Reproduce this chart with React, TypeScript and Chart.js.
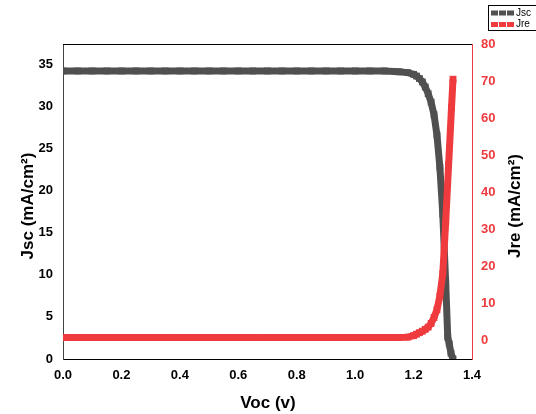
import React, { useEffect, useRef } from "react";
import { Chart, registerables } from "chart.js";

Chart.register(...registerables);

// ---- data ----
const vocJsc = [
  0, 0.05, 0.1, 0.15, 0.2, 0.25, 0.3, 0.35, 0.4, 0.45, 0.5, 0.55, 0.6, 0.65, 0.7, 0.75, 0.8, 0.85, 0.9, 0.95, 1.0,
  1.05, 1.1, 1.15, 1.18, 1.2, 1.21, 1.22, 1.23, 1.24, 1.25, 1.26, 1.27, 1.28, 1.29, 1.3, 1.31, 1.317, 1.322, 1.328,
  1.335,
];
const jscValues = [
  34.2, 34.2, 34.2, 34.2, 34.2, 34.2, 34.2, 34.2, 34.2, 34.2, 34.2, 34.2, 34.2, 34.2, 34.2, 34.2, 34.2, 34.2, 34.2,
  34.2, 34.2, 34.2, 34.2, 34.1, 34.0, 33.8, 33.6, 33.3, 32.9, 32.3, 31.5, 30.5, 29.0, 26.6, 22.8, 17.2, 9.0, 2.6, 1.8,
  0.7, 0.0,
];
const vocJre = [
  0, 0.05, 0.1, 0.15, 0.2, 0.25, 0.3, 0.35, 0.4, 0.45, 0.5, 0.55, 0.6, 0.65, 0.7, 0.75, 0.8, 0.85, 0.9, 0.95, 1.0,
  1.05, 1.1, 1.15, 1.18, 1.2, 1.21, 1.22, 1.23, 1.24, 1.25, 1.26, 1.27, 1.28, 1.29, 1.3, 1.31, 1.32, 1.33, 1.335,
];
const jreValues = [
  0.8, 0.8, 0.8, 0.8, 0.8, 0.8, 0.8, 0.8, 0.8, 0.8, 0.8, 0.8, 0.8, 0.8, 0.8, 0.8, 0.8, 0.8, 0.8, 0.8, 0.8, 0.8, 0.8,
  0.8, 0.9, 1.3, 1.7, 2.1, 2.5, 3.0, 3.6, 4.6, 6.2, 8.3, 12.0, 18.0, 32.0, 47.5, 63.0, 70.5,
];
const xTicks = [0, 0.2, 0.4, 0.6, 0.8, 1.0, 1.2, 1.4];
const jscTicks = [0, 5, 10, 15, 20, 25, 30, 35];
const jreTicks = [0, 10, 20, 30, 40, 50, 60, 70, 80];

const GRAY = "#505050";
const RED = "#ef3b3e";
const FONT = '"Liberation Sans", Arial, sans-serif';

const decorPlugin = {
  id: "decor",
  afterDraw(chart: any) {
    const ctx = chart.ctx;
    const a = chart.chartArea;
    ctx.save();
    // top frame line
    ctx.strokeStyle = "#000";
    ctx.lineWidth = 1;
    ctx.beginPath();
    ctx.moveTo(a.left, Math.round(a.top) + 0.5);
    ctx.lineTo(a.right, Math.round(a.top) + 0.5);
    ctx.stroke();

    // axis titles
    ctx.fillStyle = "#000";
    ctx.font = `bold 17px ${FONT}`;
    ctx.textAlign = "center";
    ctx.textBaseline = "middle";
    ctx.fillText("Voc (v)", 268, 403);

    ctx.save();
    ctx.translate(28, 206);
    ctx.rotate(-Math.PI / 2);
    ctx.fillText("Jsc (mA/cm²)", 0, 0);
    ctx.restore();

    ctx.save();
    ctx.translate(515, 206);
    ctx.rotate(-Math.PI / 2);
    ctx.fillText("Jre (mA/cm²)", 0, 0);
    ctx.restore();

    // legend
    ctx.strokeStyle = "#000";
    ctx.lineWidth = 1;
    ctx.strokeRect(488.5, 5.5, 50, 25);
    const entries = [
      { label: "Jsc", color: GRAY, y: 13 },
      { label: "Jre", color: RED, y: 24.5 },
    ];
    ctx.font = `10px ${FONT}`;
    ctx.textAlign = "left";
    for (const e of entries) {
      ctx.fillStyle = e.color;
      for (let i = 0; i < 3; i++) {
        ctx.fillRect(491 + i * 8, e.y - 2.5, 7, 5);
      }
      ctx.fillStyle = "#000";
      ctx.fillText(e.label, 516, e.y);
    }
    ctx.restore();
  },
};

export default function App() {
  const ref = useRef<HTMLCanvasElement | null>(null);

  useEffect(() => {
    if (!ref.current) return;
    const tickFont = { family: FONT, weight: "bold" as const, size: 13 };
    const chart = new Chart(ref.current, {
      type: "line",
      data: {
        datasets: [
          {
            label: "Jsc",
            data: vocJsc.map((v, i) => ({ x: v, y: jscValues[i] })),
            yAxisID: "y",
            borderColor: GRAY,
            backgroundColor: GRAY,
            borderWidth: 7,
            pointStyle: "rect",
            pointRadius: 4.8,
            pointBorderWidth: 0,
            pointBackgroundColor: GRAY,
            tension: 0,
            order: 1,
          },
          {
            label: "Jre",
            data: vocJre.map((v, i) => ({ x: v, y: jreValues[i] })),
            yAxisID: "y1",
            borderColor: RED,
            backgroundColor: RED,
            borderWidth: 7,
            pointStyle: "rect",
            pointRadius: 4.8,
            pointBorderWidth: 0,
            pointBackgroundColor: RED,
            tension: 0,
            order: 0,
          },
        ],
      },
      options: {
        responsive: false,
        animation: false,
        layout: { padding: { top: 44, left: 0, right: 0, bottom: 0 } },
        plugins: { legend: { display: false }, tooltip: { enabled: false } },
        scales: {
          x: {
            type: "linear",
            min: 0,
            max: 1.4,
            afterBuildTicks: (s: any) => {
              s.ticks = xTicks.map((v) => ({ value: v }));
            },
            afterFit: (s: any) => {
              s.height = 55;
            },
            grid: { display: false, drawTicks: false },
            border: { color: "#000", width: 1 },
            ticks: {
              padding: 9,
              color: "#000",
              font: tickFont,
              maxRotation: 0,
              autoSkip: false,
              callback: (v: any) => Number(v).toFixed(1),
            },
          },
          y: {
            type: "linear",
            position: "left",
            min: 0,
            max: 37.4,
            afterBuildTicks: (s: any) => {
              s.ticks = jscTicks.map((v) => ({ value: v }));
            },
            afterFit: (s: any) => {
              s.width = 63;
            },
            grid: { display: false, drawTicks: false },
            border: { color: "#444", width: 1 },
            ticks: { padding: 10, color: "#000", font: tickFont, autoSkip: false },
          },
          y1: {
            type: "linear",
            position: "right",
            min: -5,
            max: 80,
            afterBuildTicks: (s: any) => {
              s.ticks = jreTicks.map((v) => ({ value: v }));
            },
            afterFit: (s: any) => {
              s.width = 64;
            },
            grid: { display: false, drawTicks: false },
            border: { color: RED, width: 1 },
            ticks: { padding: 9, color: RED, font: tickFont, autoSkip: false },
          },
        },
      },
      plugins: [decorPlugin],
    });
    return () => chart.destroy();
  }, []);

  return (
    <div style={{ position: "absolute", left: 0, top: 0, width: 536, height: 414, background: "#fff" }}>
      <canvas ref={ref} width={536} height={414} />
    </div>
  );
}
